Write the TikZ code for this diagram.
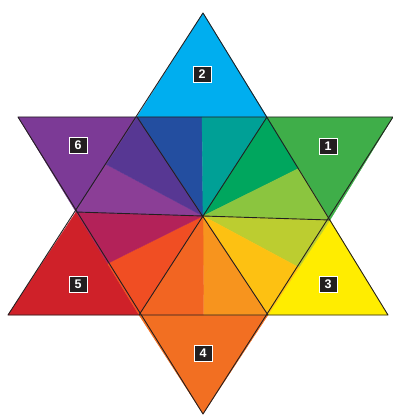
\documentclass[tikz,border=0pt]{standalone}
\usepackage{fontspec}
\setsansfont{Liberation Sans}
\usetikzlibrary{calc}
\definecolor{stink}{HTML}{231F20}
\definecolor{stgreen}{HTML}{3FAE49}
\definecolor{stcyan}{HTML}{00AEEF}
\definecolor{styellow}{HTML}{FFED00}
\definecolor{storange}{HTML}{F26F22}
\definecolor{stred}{HTML}{CF2129}
\definecolor{stpurple}{HTML}{7C3A96}
\definecolor{stblue}{HTML}{234EA0}
\definecolor{stteal}{HTML}{00A096}
\definecolor{stemerald}{HTML}{00A65E}
\definecolor{stlime}{HTML}{8BC53F}
\definecolor{stchart}{HTML}{BCCD30}
\definecolor{stamber}{HTML}{FDC112}
\definecolor{stlightorange}{HTML}{F7941E}
\definecolor{stdeeporange}{HTML}{F26522}
\definecolor{stvermilion}{HTML}{F04E23}
\definecolor{stmagenta}{HTML}{B32259}
\definecolor{stviolet}{HTML}{8B3E96}
\definecolor{stindigo}{HTML}{573793}
\tikzset{
  stwedge/.style={fill=#1, draw=#1, line width=0.3pt, line join=round},
  stedge/.style={draw=stink, line width=0.9pt, line join=round},
  sttag/.style={
    fill=stink, draw=white, line width=0.7pt, text=white,
    font=\sffamily\bfseries\fontsize{12.5}{12.5}\selectfont,
    minimum width=18pt, minimum height=16pt, inner sep=0pt},
}

\begin{document}
\begin{tikzpicture}[x=1pt, y=-1pt]
\useasboundingbox (0,0) rectangle (392,415);

% Hexagon corners and centre.
\coordinate (c) at (203,216);
\coordinate (htl) at (137,117);
\coordinate (htr) at (267,117);
\coordinate (hr) at (330,220);
\coordinate (hbr) at (268,315);
\coordinate (hbl) at (139,315);
\coordinate (hl) at (76,212);

% Star points.
\coordinate (ptop) at (203,13);
\coordinate (ptr) at (393,117);
\coordinate (pbr) at (388,315);
\coordinate (pbot) at (203,414);
\coordinate (pbl) at (8,315);
\coordinate (ptl) at (18,117);

% Outer triangles.
\path[stwedge=stgreen] (htr) -- (ptr) -- (hr) -- cycle;
\path[stwedge=stcyan] (htl) -- (ptop) -- (htr) -- cycle;
\path[stwedge=styellow] (hr) -- (pbr) -- (hbr) -- cycle;
\path[stwedge=storange] (hbr) -- (pbot) -- (hbl) -- cycle;
\path[stwedge=stred] (hbl) -- (pbl) -- (hl) -- cycle;
\path[stwedge=stpurple] (hl) -- (ptl) -- (htl) -- cycle;

% Twelve wedges of the hexagon.
\path[stwedge=stblue] (c) -- (htl) -- ($(htl)!0.5!(htr)$) -- cycle;
\path[stwedge=stteal] (c) -- ($(htl)!0.5!(htr)$) -- (htr) -- cycle;
\path[stwedge=stemerald] (c) -- (htr) -- ($(htr)!0.5!(hr)$) -- cycle;
\path[stwedge=stlime] (c) -- ($(htr)!0.5!(hr)$) -- (hr) -- cycle;
\path[stwedge=stchart] (c) -- (hr) -- ($(hr)!0.5!(hbr)$) -- cycle;
\path[stwedge=stamber] (c) -- ($(hr)!0.5!(hbr)$) -- (hbr) -- cycle;
\path[stwedge=stlightorange] (c) -- (hbr) -- ($(hbr)!0.5!(hbl)$) -- cycle;
\path[stwedge=stdeeporange] (c) -- ($(hbr)!0.5!(hbl)$) -- (hbl) -- cycle;
\path[stwedge=stvermilion] (c) -- (hbl) -- ($(hbl)!0.5!(hl)$) -- cycle;
\path[stwedge=stmagenta] (c) -- ($(hbl)!0.5!(hl)$) -- (hl) -- cycle;
\path[stwedge=stviolet] (c) -- (hl) -- ($(hl)!0.5!(htl)$) -- cycle;
\path[stwedge=stindigo] (c) -- ($(hl)!0.5!(htl)$) -- (htl) -- cycle;

% Outlines.
\draw[stedge] (ptop) -- (pbl) -- (pbr) -- cycle;
\draw[stedge] (ptl) -- (ptr) -- (pbot) -- cycle;
\draw[stedge] (htl) -- (hbr) (htr) -- (hbl) (hl) -- (hr);

% Number tags.
\node[sttag] (tag1) at (328,146) {1};
\node[sttag] (tag2) at (202,74) {2};
\node[sttag] (tag3) at (328,284) {3};
\node[sttag] (tag4) at (203,353) {4};
\node[sttag] (tag5) at (78,284) {5};
\node[sttag] (tag6) at (78,145) {6};

\end{tikzpicture}
\end{document}
